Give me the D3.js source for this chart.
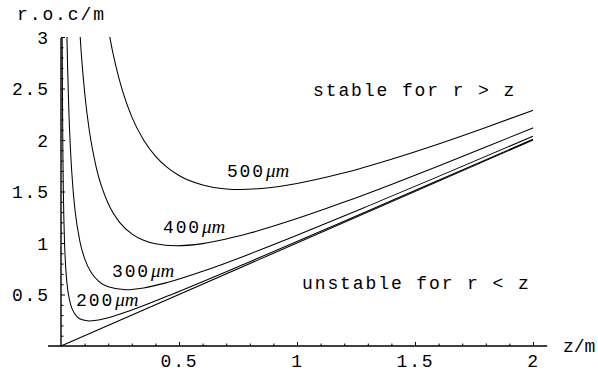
<!DOCTYPE html>
<html><head><meta charset="utf-8">
<script src="https://cdn.jsdelivr.net/npm/d3@7"></script>
<style>
html,body{margin:0;padding:0;background:#fff;}
svg{display:block;}
text{font-family:"Liberation Mono","Courier New",monospace;fill:#000;}
</style></head>
<body>
<svg id="chart" width="598" height="379"></svg>
<script>
// ---- data (z in m, radius of curvature in m) ----
const waists = ["200", "300", "400", "500"];
const curve200 = [[0.0048,3.086],[0.006,2.471],[0.008,1.857],[0.010,1.489],[0.012,1.245],[0.015,1.001],[0.020,0.760],[0.025,0.617],[0.030,0.523],[0.040,0.410],[0.050,0.346],[0.070,0.281],[0.090,0.254],[0.120,0.243],[0.150,0.249],[0.200,0.274],[0.300,0.349],[0.500,0.530],[0.800,0.818],[1.200,1.212],[1.600,1.609],[2.000,2.007]];
const curve300 = [[0.024,3.145],[0.028,2.703],[0.033,2.303],[0.040,1.913],[0.050,1.548],[0.060,1.308],[0.080,1.016],[0.100,0.849],[0.130,0.706],[0.160,0.628],[0.200,0.575],[0.274,0.547],[0.350,0.564],[0.450,0.616],[0.600,0.725],[0.800,0.894],[1.000,1.075],[1.300,1.358],[1.600,1.647],[2.000,2.037]];
const curve400 = [[0.075,3.230],[0.085,2.869],[0.100,2.466],[0.120,2.092],[0.150,1.727],[0.200,1.383],[0.250,1.196],[0.300,1.089],[0.350,1.026],[0.400,0.992],[0.486,0.973],[0.600,0.994],[0.700,1.038],[0.800,1.096],[1.000,1.237],[1.200,1.397],[1.400,1.569],[1.600,1.748],[1.800,1.931],[2.000,2.118]];
const curve500 = [[0.190,3.230],[0.207,2.997],[0.230,2.741],[0.260,2.482],[0.300,2.225],[0.350,2.000],[0.400,1.844],[0.450,1.734],[0.500,1.655],[0.600,1.563],[0.700,1.525],[0.760,1.520],[0.850,1.530],[1.000,1.578],[1.200,1.681],[1.400,1.813],[1.600,1.961],[1.800,2.121],[2.000,2.289]];
const lineRZ = [[0,0],[2,2]];
const xTicks = [0.5, 1, 1.5, 2];
const yTicks = [0.5, 1, 1.5, 2, 2.5, 3];
const xMinor = [0.1,0.2,0.3,0.4,0.6,0.7,0.8,0.9,1.1,1.2,1.3,1.4,1.6,1.7,1.8,1.9];
const yMinor = [0.1,0.2,0.3,0.4,0.6,0.7,0.8,0.9,1.1,1.2,1.3,1.4,1.6,1.7,1.8,1.9,2.1,2.2,2.3,2.4,2.6,2.7,2.8,2.9];
const curves = [curve200, curve300, curve400, curve500];

// ---- layout ----
const svg = d3.select("#chart");
const FS = 18, LS = 1.9;
const x = d3.scaleLinear().domain([0, 2]).range([61, 533]);
const y = d3.scaleLinear().domain([0, 3]).range([346, 37]);

svg.append("defs").append("clipPath").attr("id","clip")
  .append("rect").attr("x", x(-0.06)).attr("y", y(3)).attr("width", x(2.07)-x(-0.06)).attr("height", y(0)-y(3)+1);

// axes
const fmt = d => String(d);
const gx = svg.append("g").attr("transform", `translate(0,${y(0)})`)
  .call(d3.axisBottom(x).tickValues(xTicks).tickFormat(fmt).tickSize(-4).tickSizeOuter(0).tickPadding(10));
const gxm = svg.append("g").attr("transform", `translate(0,${y(0)})`)
  .call(d3.axisBottom(x).tickValues(xMinor).tickFormat("").tickSize(-2.5).tickSizeOuter(0));
const gy = svg.append("g").attr("transform", `translate(${x(0)},0)`)
  .call(d3.axisLeft(y).tickValues(yTicks).tickFormat(fmt).tickSize(-4).tickSizeOuter(0).tickPadding(11));
const gym = svg.append("g").attr("transform", `translate(${x(0)},0)`)
  .call(d3.axisLeft(y).tickValues(yMinor).tickFormat("").tickSize(-2.5).tickSizeOuter(0));
[gx,gxm,gy,gym].forEach(g => {
  g.select(".domain").remove();
  g.selectAll("line").attr("stroke","#000").attr("stroke-width",1);
  g.selectAll("text").attr("font-family","Liberation Mono, Courier New, monospace")
    .attr("font-size", FS).attr("letter-spacing", LS).attr("fill","#000");
});
gy.selectAll("text").attr("dy","0.36em");
gx.selectAll("text").attr("dy","0.6em");

// axis lines
svg.append("line").attr("x1", x(-0.055)).attr("x2", x(2.06)).attr("y1", y(0)).attr("y2", y(0))
  .attr("stroke","#000").attr("stroke-width",1.4);
svg.append("line").attr("x1", x(0)).attr("x2", x(0)).attr("y1", y(0)).attr("y2", y(2.99))
  .attr("stroke","#000").attr("stroke-width",1.4);

// curves
const line = d3.line().x(d => x(d[0])).y(d => y(d[1])).curve(d3.curveMonotoneX);
const plot = svg.append("g").attr("clip-path","url(#clip)");
plot.selectAll("path.c").data(curves).join("path").attr("class","c")
  .attr("d", line).attr("fill","none").attr("stroke","#000").attr("stroke-width",1.05);
plot.append("path").datum(lineRZ).attr("d", d3.line().x(d=>x(d[0])).y(d=>y(d[1])))
  .attr("fill","none").attr("stroke","#000").attr("stroke-width",1.05);

// curve labels
const labelPos = [[0.064,0.388],[0.216,0.670],[0.432,1.097],[0.703,1.641]];
waists.forEach((w,i) => {
  const t = svg.append("text").attr("x", x(labelPos[i][0])).attr("y", y(labelPos[i][1]))
    .attr("font-size", FS).attr("letter-spacing", LS);
  t.append("tspan").text(w);
  t.append("tspan").attr("font-family","Liberation Serif, Times New Roman, serif")
    .attr("font-style","italic").attr("letter-spacing",0).attr("font-size",19).attr("dx",1).text("\u03bcm");
});

// titles & annotations
function txt(s, px, py, ls){
  return svg.append("text").attr("x", px).attr("y", py).attr("font-size", FS)
    .attr("letter-spacing", ls).text(s);
}
txt("r.o.c/m", 17, 20, LS);
txt("z/m", 563, 352, 0);
txt("stable for r > z", 313, 96, LS);
txt("unstable for r < z", 302, 289, LS);
</script>
</body></html>
